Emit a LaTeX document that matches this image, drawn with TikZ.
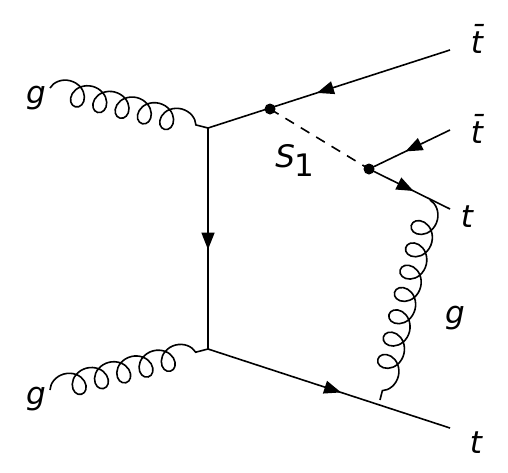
\documentclass[tikz,border=0pt]{standalone}
\usepackage{fontspec}
\setmainfont{DejaVu Sans}
\usetikzlibrary{arrows.meta,decorations.pathmorphing,decorations.markings}

\begin{document}
\begin{tikzpicture}[x=1pt,y=-1pt,
  fermion/.style={line width=1.6pt,postaction={decorate},
    decoration={markings,mark=at position 0.55 with {\arrow{Triangle[length=17pt,width=13pt]}}}},
  gluon/.style={line width=1.6pt,decorate,
    decoration={coil,amplitude=12pt,segment length=23pt,aspect=1}},
  scalar/.style={line width=1.6pt,dash pattern=on 10pt off 8pt},
  lbl/.style={font=\fontsize{31}{34}\selectfont\itshape,anchor=base,inner sep=0pt},
  vtx/.style={circle,fill,inner sep=0pt,minimum size=11pt}]
\useasboundingbox (0,0) rectangle (508,472);
% vertices and external legs
\coordinate (v1) at (208,128);
\coordinate (v2) at (208,349);
\coordinate (s1) at (270,109);
\coordinate (dec) at (369,169);
\coordinate (g1) at (50,88);
\coordinate (g2) at (50,390);
\coordinate (tb1) at (450,50);
\coordinate (tb2) at (450,130);
\coordinate (t2) at (450,209);
\coordinate (t1) at (450,428);
\coordinate (gs) at (430,200);
\coordinate (ge) at (380,400);
% lines
\draw[gluon] (g1) -- (v1);
\draw[gluon] (g2) -- (v2);
\draw[fermion] (v1) -- (v2);
\draw[fermion] (tb1) -- (v1);
\draw[fermion] (v2) -- (t1);
\draw[scalar] (s1) -- (dec);
\draw[fermion] (tb2) -- (dec);
\draw[fermion] (dec) -- (t2);
\draw[gluon] (gs) -- (ge);
\node[vtx] (s1dot) at (s1) {};
\node[vtx] (decdot) at (dec) {};
% labels
\node[lbl] (lg1) at (36,103) {g};
\node[lbl] (lg2) at (36,404) {g};
\node[lbl] (ltb1) at (477,53) {\=t};
\node[lbl] (ltb2) at (477,143) {\=t};
\node[lbl] (lt2) at (467,227) {t};
\node[lbl] (lg3) at (455,323) {g};
\node[lbl] (lt1) at (476,453) {t};
\node[lbl] (ls1) at (295,167) {S\raisebox{-9pt}{\upshape 1}};
\end{tikzpicture}
\end{document}
